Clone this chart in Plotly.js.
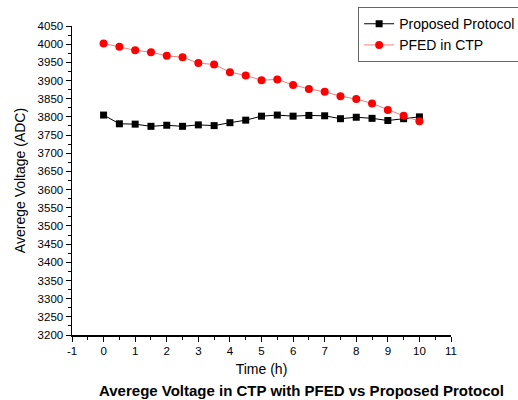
<!DOCTYPE html>
<html>
<head>
<meta charset="utf-8">
<script src="https://cdn.plot.ly/plotly-3.0.1.min.js"></script>
<style>html,body{margin:0;padding:0;background:#fff;}#chart{width:518px;height:400px;}</style>
</head>
<body>
<div id="chart"></div>
<script>
const timeHours = [0, 0.5, 1, 1.5, 2, 2.5, 3, 3.5, 4, 4.5, 5, 5.5, 6, 6.5, 7, 7.5, 8, 8.5, 9, 9.5, 10];
const proposedProtocol = [3805, 3781, 3780, 3774, 3777, 3774, 3778, 3776, 3784, 3791, 3802, 3805, 3802, 3804, 3803, 3795, 3799, 3796, 3790, 3795, 3800];
const pfedInCtp = [4002, 3993, 3983, 3978, 3968, 3964, 3948, 3944, 3923, 3914, 3901, 3903, 3888, 3877, 3869, 3857, 3849, 3837, 3819, 3803, 3788];
const seriesNames = ["Proposed Protocol", "PFED in CTP"];
const xTickVals = [-1, 0, 1, 2, 3, 4, 5, 6, 7, 8, 9, 10, 11];
const xTickText = ["-1", "0", "1", "2", "3", "4", "5", "6", "7", "8", "9", "10", "11"];

const traces = [
  {x: timeHours, y: proposedProtocol, name: seriesNames[0], mode: 'lines+markers', type: 'scatter',
   line: {color: '#000000', width: 1}, marker: {symbol: 'square', size: 7, color: '#000000'}},
  {x: timeHours, y: pfedInCtp, name: seriesNames[1], mode: 'lines+markers', type: 'scatter',
   line: {color: '#f08080', width: 1}, marker: {symbol: 'circle', size: 8, color: '#ff0000'}}
];

const layout = {
  width: 518, height: 400,
  margin: {l: 72, r: 67, t: 26, b: 65, autoexpand: false},
  paper_bgcolor: '#ffffff', plot_bgcolor: '#ffffff',
  font: {family: 'Liberation Sans, Arial, sans-serif', color: '#000000'},
  showlegend: true,
  legend: {x: 0.755, y: 1.061, xanchor: 'left', yanchor: 'top', bgcolor: '#ffffff',
           bordercolor: '#666666', borderwidth: 1, font: {size: 14}, tracegroupgap: 0, itemwidth: 30},
  xaxis: {range: [-1, 11], tickmode: 'array', tickvals: xTickVals, ticktext: xTickText, showgrid: false, zeroline: false,
          showline: true, linecolor: '#000', linewidth: 1.5, ticks: 'outside', ticklen: 5, tickcolor: '#000',
          minor: {dtick: 0.5, ticks: 'outside', ticklen: 3, tickcolor: '#000'},
          tickfont: {size: 11.5}, title: {text: 'Time (h)', font: {size: 14}, standoff: 8}},
  yaxis: {range: [3200, 4050], dtick: 50, tick0: 3200, showgrid: false, zeroline: false,
          showline: true, linecolor: '#000', linewidth: 1.5, ticks: 'outside', ticklen: 5, tickcolor: '#000',
          minor: {dtick: 25, ticks: 'outside', ticklen: 3, tickcolor: '#000'},
          tickfont: {size: 11.5}, title: {text: 'Averege Voltage (ADC)', font: {size: 14}, standoff: 8}},
  annotations: [{text: '<b>Averege Voltage in CTP with PFED vs Proposed Protocol</b>', xref: 'paper', yref: 'paper',
                 x: 0.605, y: -0.178, xanchor: 'center', yanchor: 'middle', showarrow: false, font: {size: 15}}]
};

Plotly.newPlot('chart', traces, layout, {displayModeBar: false, staticPlot: true});
</script>
</body>
</html>
